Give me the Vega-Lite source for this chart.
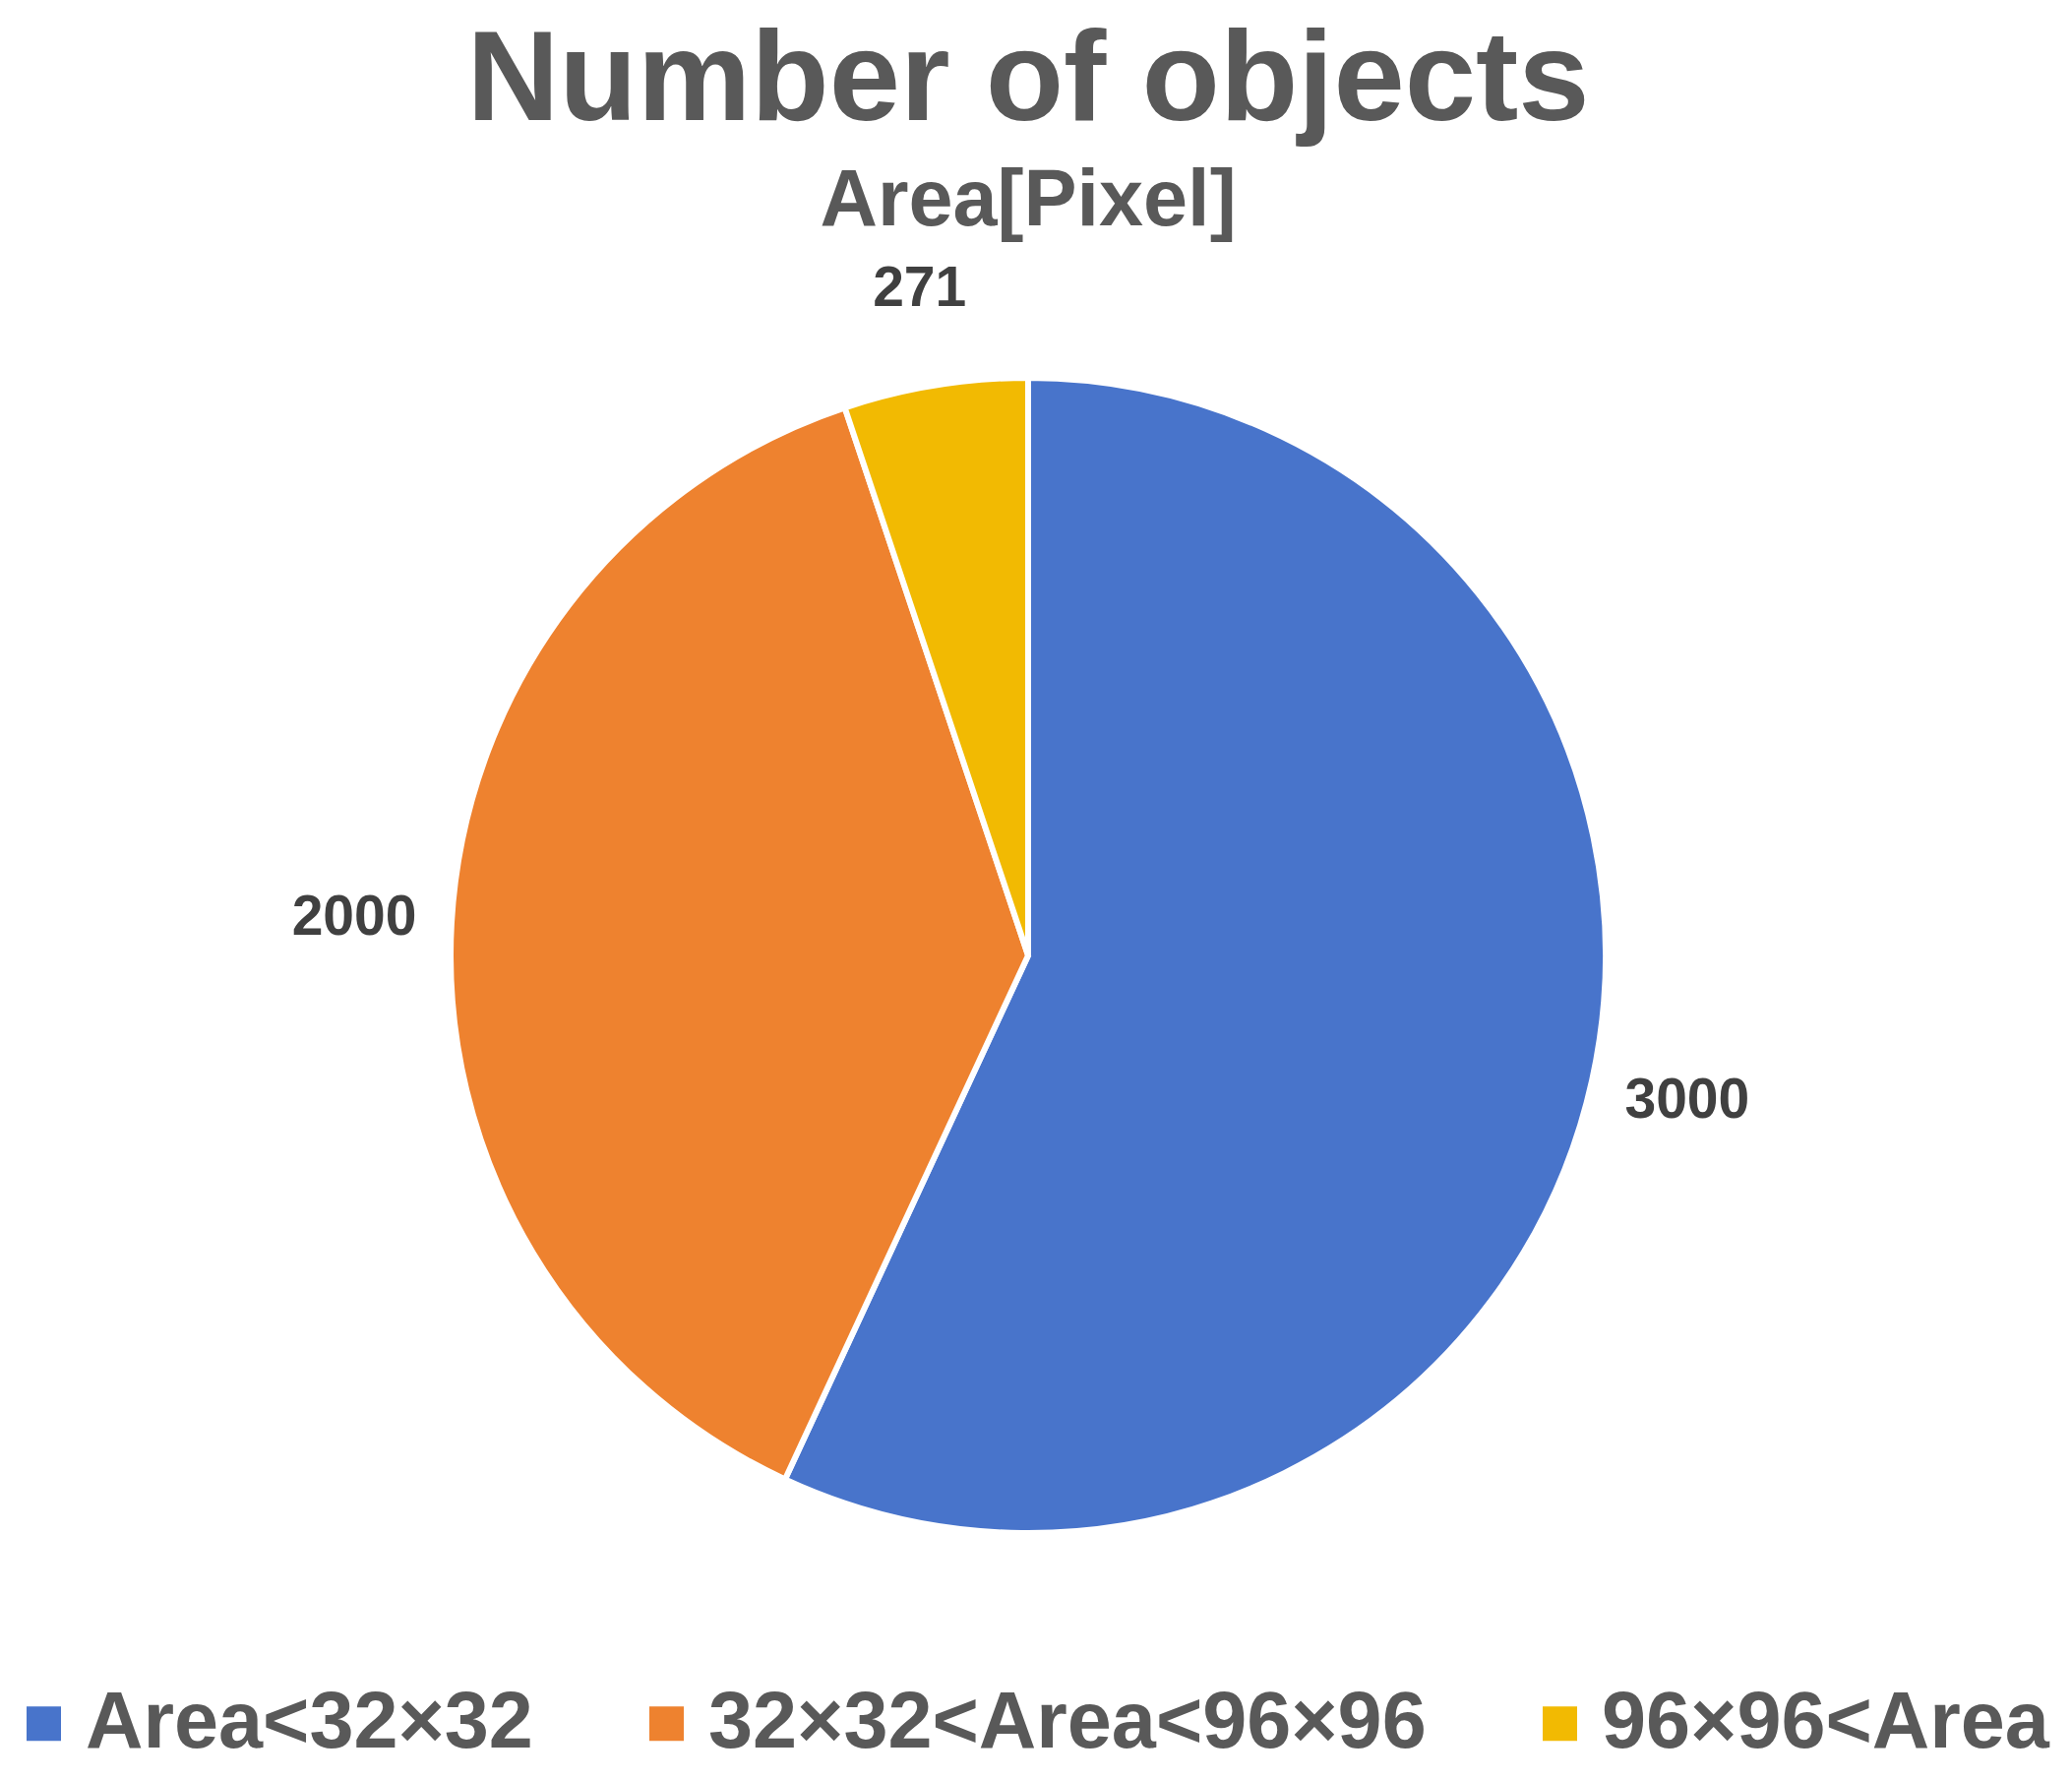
{
  "$schema": "https://vega.github.io/schema/vega-lite/v6.json",
  "width": 2090,
  "height": 1422,
  "autosize": {"type": "none"},
  "padding": {"left": 0, "top": 260, "right": 16, "bottom": 127},
  "background": "white",
  "title": {
    "text": "Number of objects",
    "subtitle": "Area[Pixel]",
    "anchor": "middle",
    "font": "Liberation Sans",
    "fontSize": 130,
    "fontWeight": "bold",
    "color": "#595959",
    "subtitleFont": "Liberation Sans",
    "subtitleFontSize": 81,
    "subtitleFontWeight": "bold",
    "subtitleColor": "#595959",
    "subtitlePadding": 16,
    "offset": 14
  },
  "data": {
    "values": [
      {"category": "Area<32×32", "count": 3000},
      {"category": "32×32<Area<96×96", "count": 2000},
      {"category": "96×96<Area", "count": 271}
    ]
  },
  "encoding": {
    "theta": {"field": "count", "type": "quantitative", "stack": true},
    "order": {"field": "count", "type": "quantitative", "sort": "descending"}
  },
  "layer": [
    {
      "mark": {"type": "arc", "outerRadius": 587, "stroke": "white", "strokeWidth": 6},
      "encoding": {
        "color": {
          "field": "category",
          "type": "nominal",
          "scale": {
            "domain": ["Area<32×32", "32×32<Area<96×96", "96×96<Area"],
            "range": ["#4874CB", "#EE822F", "#F2BA02"]
          },
          "legend": {
            "title": null,
            "orient": "none",
            "direction": "horizontal",
            "legendX": 4,
            "legendY": 1451,
            "symbolType": "square",
            "symbolSize": 1225,
            "symbolStrokeWidth": 0,
            "symbolOpacity": 1,
            "labelFont": "Liberation Sans",
            "labelFontSize": 81,
            "labelFontWeight": "bold",
            "labelColor": "#595959",
            "labelLimit": 0,
            "labelOffset": 2,
            "columnPadding": 95
          }
        }
      }
    },
    {
      "mark": {
        "type": "text",
        "radius": 686,
        "font": "Liberation Sans",
        "fontSize": 57,
        "fontWeight": "bold",
        "color": "#404040",
        "baseline": "middle",
        "align": "center"
      },
      "encoding": {
        "detail": {"field": "category", "type": "nominal"},
        "text": {"field": "count", "type": "quantitative", "format": "d"}
      }
    }
  ],
  "config": {"view": {"stroke": null}}
}
